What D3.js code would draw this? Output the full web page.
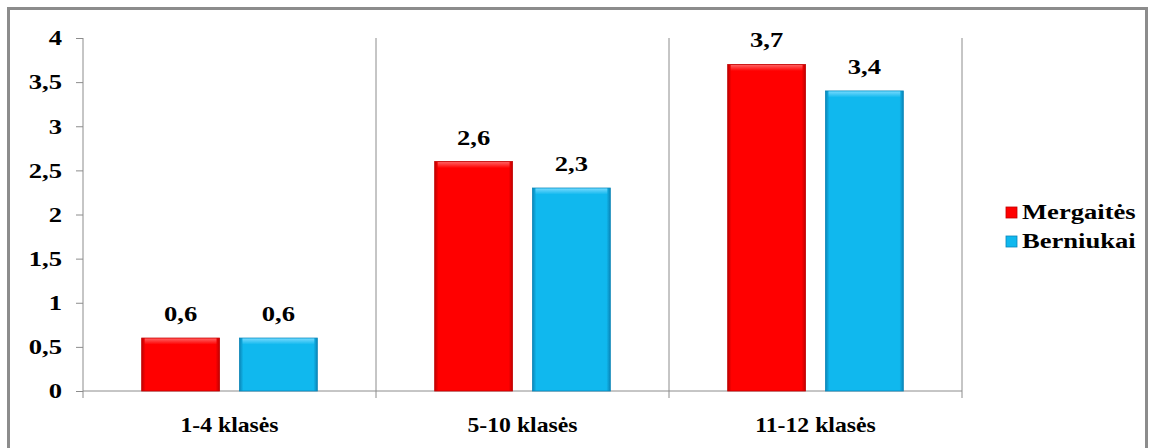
<!DOCTYPE html>
<html>
<head>
<meta charset="utf-8">
<script src="https://cdn.jsdelivr.net/npm/d3@7"></script>
<style>
  body { margin: 0; background: #fff; }
</style>
</head>
<body>
<svg id="chart" width="1154" height="448"></svg>
<script>
var categories = ['1-4 klasės', '5-10 klasės', '11-12 klasės'];
var seriesNames = ['Mergaitės', 'Berniukai'];
var mergaites = [0.6, 2.6, 3.7];
var berniukai = [0.6, 2.3, 3.4];
var yTicks = [0, 0.5, 1, 1.5, 2, 2.5, 3, 3.5, 4];

var colors = ['#ff0000', '#10b8ee'];
var darks = ['#c00000', '#0a86b8'];
var lights = ['#ff6a6a', '#7ddcff'];
var serif = "'Liberation Serif'";

var svg = d3.select('#chart');
var pLeft = 83, pRight = 962, pTop = 38, pBottom = 391;

// place a bold serif text at (x, y), stretched sideways (the original text is drawn wide)
function label(sel, size, x, y, stretch) {
  stretch = stretch || 1.33;
  return sel.attr('x', 0).attr('y', 0)
    .attr('transform', function(d, i) {
      var xx = typeof x === 'function' ? x(d, i) : x;
      var yy = typeof y === 'function' ? y(d, i) : y;
      return 'translate(' + xx + ',' + yy + ') scale(' + stretch + ',1)';
    })
    .style('font-family', serif).style('font-weight', 'bold')
    .style('font-size', size + 'px').attr('fill', '#000');
}

// frame
svg.append('rect')
  .attr('x', 8.5).attr('y', 8.5)
  .attr('width', 1138).attr('height', 460)
  .attr('fill', 'none').attr('stroke', '#8c8c8c').attr('stroke-width', 3);

var defs = svg.append('defs');
colors.forEach(function(c, i) {
  var g = defs.append('linearGradient').attr('id', 'h' + i)
    .attr('x1', 0).attr('x2', 1).attr('y1', 0).attr('y2', 0);
  g.append('stop').attr('offset', '0').attr('stop-color', darks[i]);
  g.append('stop').attr('offset', '0.05').attr('stop-color', c);
  g.append('stop').attr('offset', '0.95').attr('stop-color', c);
  g.append('stop').attr('offset', '1').attr('stop-color', darks[i]);
  var v = defs.append('linearGradient').attr('id', 'v' + i)
    .attr('x1', 0).attr('x2', 0).attr('y1', 0).attr('y2', 1);
  v.append('stop').attr('offset', '0').attr('stop-color', lights[i]).attr('stop-opacity', 0.9);
  v.append('stop').attr('offset', '1').attr('stop-color', lights[i]).attr('stop-opacity', 0);
});

var x0 = d3.scaleBand().domain(categories).range([pLeft, pRight]);
var x1 = d3.scaleBand().domain(seriesNames).range([0, x0.bandwidth()]).paddingInner(0.204).paddingOuter(0.6);
var y = d3.scaleLinear().domain([0, 4]).range([pBottom, pTop]);

// y axis
var yAxis = svg.append('g').attr('transform', 'translate(' + pLeft + ',0)')
  .call(d3.axisLeft(y).tickValues(yTicks).tickSize(7).tickPadding(13)
    .tickFormat(function(d) { return String(d).replace('.', ','); }));
yAxis.select('.domain').attr('stroke', '#8c8c8c').attr('d', 'M0,' + pTop + 'V' + pBottom);
yAxis.selectAll('.tick line').attr('stroke', '#8c8c8c');
label(yAxis.selectAll('text'), 20, -21, 0).attr('dy', '0.34em');

// category separators
var bounds = categories.map(function(c) { return x0(c); }).concat([pRight]);
svg.selectAll('.sep').data(bounds.slice(1)).enter().append('line')
  .attr('x1', function(d) { return d; }).attr('x2', function(d) { return d; })
  .attr('y1', pTop).attr('y2', pBottom + 7)
  .attr('stroke', '#8c8c8c');
svg.selectAll('.tk').data(bounds.slice(0, 1)).enter().append('line')
  .attr('x1', function(d) { return d; }).attr('x2', function(d) { return d; })
  .attr('y1', pBottom).attr('y2', pBottom + 7)
  .attr('stroke', '#8c8c8c');
svg.append('line').attr('x1', pLeft).attr('x2', pRight).attr('y1', pBottom).attr('y2', pBottom)
  .attr('stroke', '#8c8c8c');

// category labels
label(svg.selectAll('.cat').data(categories).enter().append('text')
  .attr('text-anchor', 'middle')
  .text(function(d) { return d; }), 21,
  function(d) { return x0(d) + x0.bandwidth() / 2; }, 432, 1.13);

// bars
var series = [mergaites, berniukai];
series.forEach(function(vals, si) {
  var g = svg.append('g');
  categories.forEach(function(c, ci) {
    var bx = x0(c) + x1(seriesNames[si]);
    var by = y(vals[ci]);
    var bw = x1.bandwidth();
    var bh = pBottom - by;
    g.append('rect').attr('x', bx).attr('y', by).attr('width', bw).attr('height', bh)
      .attr('fill', 'url(#h' + si + ')').attr('stroke', darks[si]).attr('stroke-width', 0.8);
    g.append('rect').attr('x', bx + 3).attr('y', by + 0.5).attr('width', bw - 6).attr('height', Math.min(6, bh))
      .attr('fill', 'url(#v' + si + ')');
    label(g.append('text').attr('text-anchor', 'middle')
      .text(String(vals[ci]).replace('.', ',')), 20, bx + bw / 2, by - 17);
  });
});

// legend
seriesNames.forEach(function(n, i) {
  var ly = 207 + i * 29;
  svg.append('rect').attr('x', 1006).attr('y', ly).attr('width', 11).attr('height', 11)
    .attr('fill', colors[i]).attr('stroke', darks[i]).attr('stroke-width', 0.8);
  label(svg.append('text').text(n), 20, 1022, ly + 12);
});
</script>
</body>
</html>
